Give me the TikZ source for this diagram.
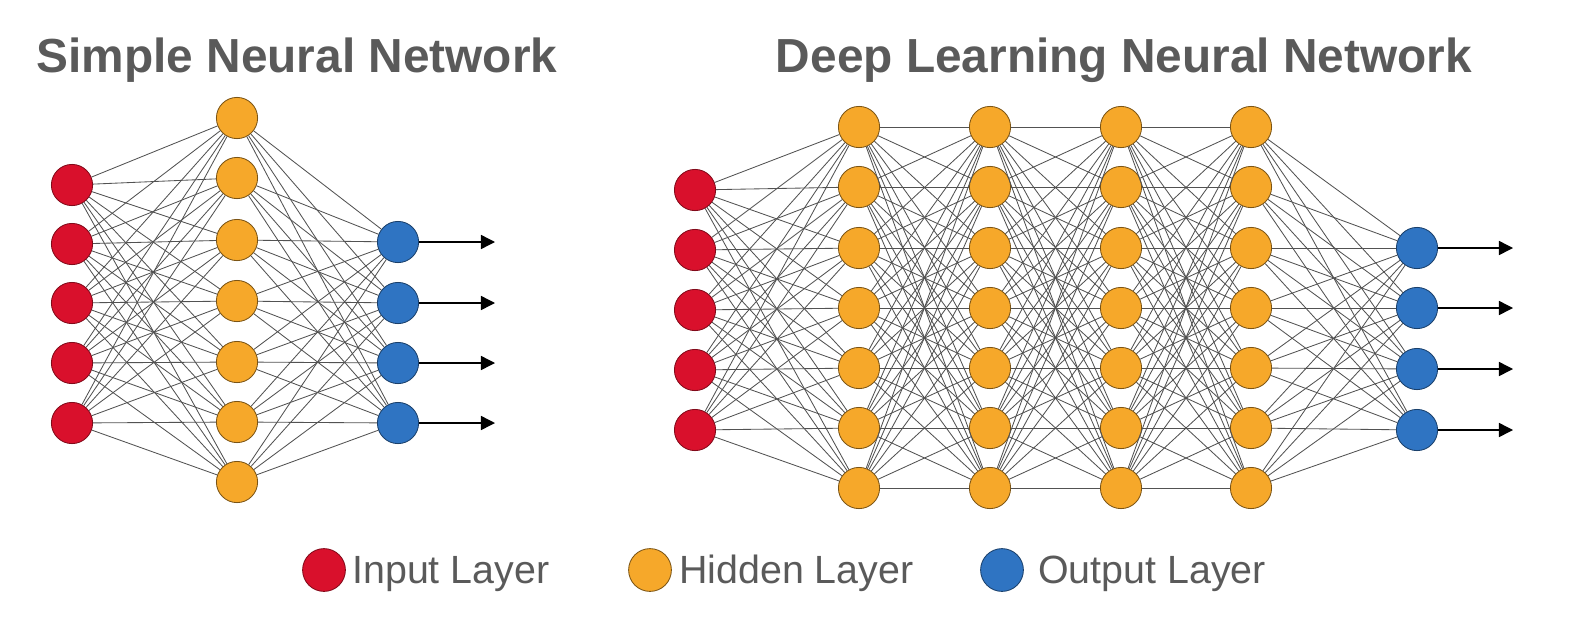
\documentclass[tikz,border=0pt]{standalone}
\usepackage{fontspec}
\setmainfont{Liberation Sans}
\definecolor{InputRed}{HTML}{D9102C}
\definecolor{HiddenOrange}{HTML}{F6A82A}
\definecolor{OutputBlue}{HTML}{2F74C2}
\definecolor{LabelGray}{HTML}{5A5A5A}
\usetikzlibrary{arrows.meta}
\tikzset{
  neuron/.style={circle, inner sep=0pt, minimum size=1.03cm, line width=0.6pt},
  innode/.style={neuron, fill=InputRed, draw=InputRed!60!black},
  hidnode/.style={neuron, fill=HiddenOrange, draw=HiddenOrange!50!black},
  outnode/.style={neuron, fill=OutputBlue, draw=OutputBlue!55!black},
  link/.style={draw=black!68, line width=0.6pt},
  outarrow/.style={-{Triangle[length=10pt,width=10pt]}, line width=1pt},
  titletext/.style={anchor=base, text=LabelGray, font=\fontsize{34}{40}\selectfont\bfseries},
  legendtext/.style={anchor=base west, inner sep=0pt, text=LabelGray, font=\fontsize{28}{33}\selectfont}
}

\begin{document}
\begin{tikzpicture}[x=0.025cm, y=-0.025cm]
  \useasboundingbox (0,0) rectangle (1576,632);

  % --- Titres ---
  \node[titletext] (simpletitle) at (297,72) {Simple Neural Network};
  \node[titletext] (deeptitle) at (1124,72) {Deep Learning Neural Network};

  % --- Reseau simple ---
  \foreach \i/\y in {1/185,2/244,3/303,4/363,5/423}
    \node[innode] (si\i) at (72,\y) {};
  \foreach \j/\y in {1/118,2/178,3/240,4/301,5/362,6/422,7/482}
    \node[hidnode] (sh\j) at (237,\y) {};
  \foreach \k/\y in {1/242,2/303,3/363,4/423}
    \node[outnode] (so\k) at (398,\y) {};

  \foreach \i in {1,...,5}
    \foreach \j in {1,...,7}
      \draw[link] (si\i) -- (sh\j);
  \foreach \j in {1,...,7}
    \foreach \k in {1,...,4}
      \draw[link] (sh\j) -- (so\k);
  \foreach \k/\y in {1/242,2/303,3/363,4/423} {
    \coordinate (se\k) at (495,\y);
    \draw[outarrow] (so\k) -- (se\k);
  }

  % --- Reseau profond ---
  \foreach \i/\y in {1/190,2/250,3/310,4/370,5/430}
    \node[innode] (di\i) at (695,\y) {};
  \foreach \l/\x in {1/859,2/990,3/1121,4/1251}
    \foreach \j/\y in {1/127,2/187,3/248,4/308,5/368,6/428,7/488}
      \node[hidnode] (dh\l-\j) at (\x,\y) {};
  \foreach \k/\y in {1/248,2/308,3/369,4/430}
    \node[outnode] (do\k) at (1417,\y) {};

  \foreach \i in {1,...,5}
    \foreach \j in {1,...,7}
      \draw[link] (di\i) -- (dh1-\j);
  \foreach \l/\m in {1/2,2/3,3/4}
    \foreach \j in {1,...,7}
      \foreach \n in {1,...,7}
        \draw[link] (dh\l-\j) -- (dh\m-\n);
  \foreach \j in {1,...,7}
    \foreach \k in {1,...,4}
      \draw[link] (dh4-\j) -- (do\k);
  \foreach \k/\y in {1/248,2/308,3/369,4/430} {
    \coordinate (de\k) at (1513,\y);
    \draw[outarrow] (do\k) -- (de\k);
  }

  % --- Legende ---
  \node[innode, minimum size=1.07cm] (leginput) at (324,570) {};
  \node[legendtext] (leginputtext) at (352,583) {Input Layer};
  \node[hidnode, minimum size=1.07cm] (leghidden) at (650,570) {};
  \node[legendtext] (leghiddentext) at (679,583) {Hidden Layer};
  \node[outnode, minimum size=1.07cm] (legoutput) at (1002,570) {};
  \node[legendtext] (legoutputtext) at (1038,583) {Output Layer};
\end{tikzpicture}
\end{document}
